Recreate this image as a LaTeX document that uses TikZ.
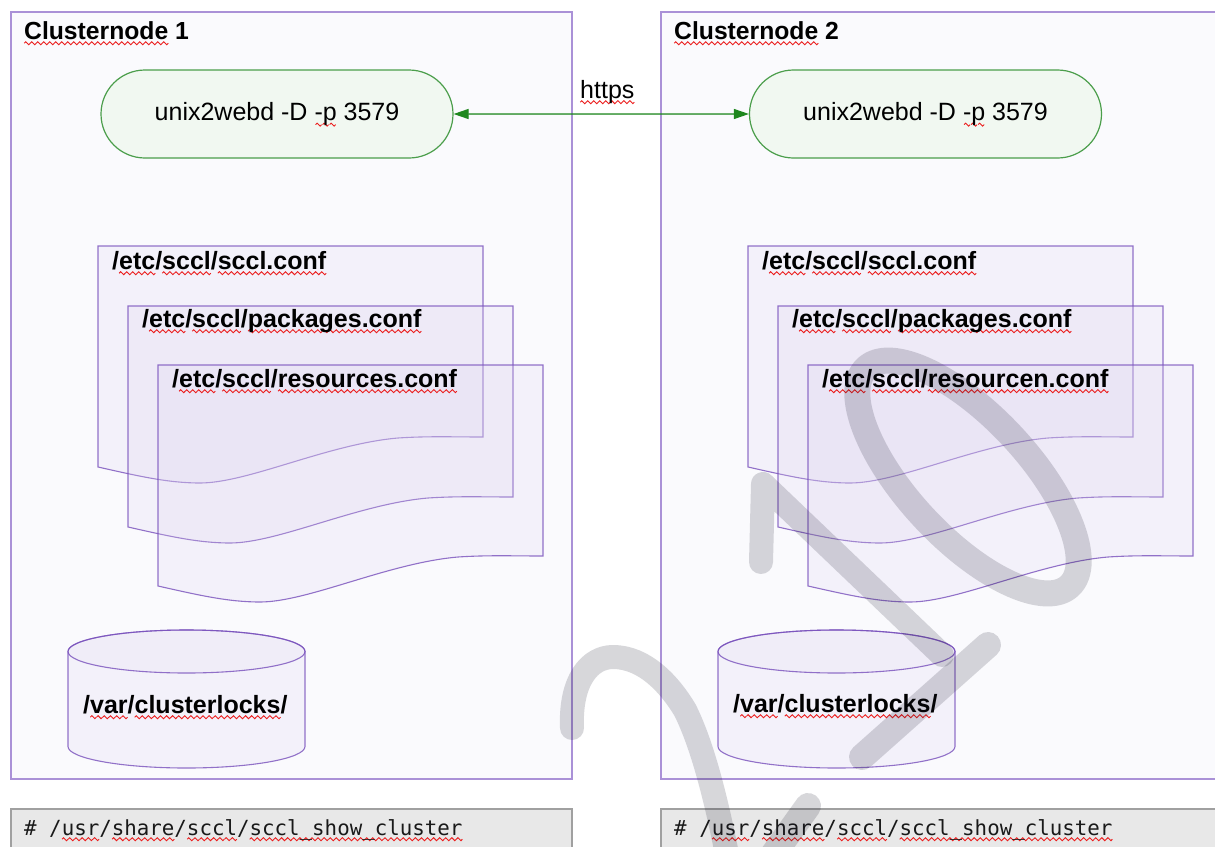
\documentclass[tikz,border=0pt]{standalone}
\usepackage{fontspec}
\setmainfont{Liberation Sans}
\setmonofont{DejaVu Sans Mono}
\usetikzlibrary{shapes.misc,arrows.meta}

\definecolor{boxline}{RGB}{170,145,215}
\definecolor{boxfill}{RGB}{250,250,253}
\definecolor{docline}{RGB}{120,80,188}
\definecolor{docfill}{RGB}{222,212,240}
\definecolor{ovline}{RGB}{75,158,75}
\definecolor{ovfill}{RGB}{241,248,241}
\definecolor{arrowgreen}{RGB}{30,135,30}
\definecolor{codefill}{RGB}{232,232,232}
\definecolor{codeline}{RGB}{160,160,160}
\definecolor{squig}{RGB}{235,30,30}
\definecolor{wmark}{RGB}{20,20,40}

\newsavebox{\sqbox}
\newcommand\sqwave{\tikz[baseline=0pt]{\useasboundingbox (0pt,-1.6pt) rectangle (6pt,1.6pt); \draw[squig,line width=0.9pt] (0pt,0pt) sin (1.5pt,1.5pt) cos (3pt,0pt) sin (4.5pt,-1.5pt) cos (6pt,0pt);}}
\newcommand\sq[1]{\sbox{\sqbox}{#1}\rlap{\raisebox{-4.2pt}[0pt][0pt]{\hbox to \wd\sqbox{\xleaders\hbox{\sqwave}\hfill}}}\usebox{\sqbox}}

\begin{document}
\begin{tikzpicture}[x=1pt,y=-1pt,
  clusterbox/.style={draw=boxline, fill=boxfill, line width=1.6pt, inner sep=0pt, anchor=north west, minimum width=561pt, minimum height=767pt},
  titletext/.style={font=\fontsize{24.7}{30}\selectfont\bfseries, anchor=base west, inner sep=0pt},
  daemon/.style={rounded rectangle, draw=ovline, fill=ovfill, line width=1.2pt, minimum width=352pt, minimum height=88pt, inner sep=0pt, font=\fontsize{25}{30}\selectfont},
  link/.style={draw=arrowgreen, fill=arrowgreen, line width=1.2pt, {Triangle[length=15pt,width=10pt]}-{Triangle[length=15pt,width=10pt]}},
  plaintext/.style={font=\fontsize{25}{30}\selectfont, anchor=base west, inner sep=0pt},
  docshape/.style={draw=docline, draw opacity=0.8, fill=docfill, fill opacity=0.22, line width=1.1pt},
  doclabel/.style={font=\fontsize{25}{30}\selectfont\bfseries, anchor=base west, inner sep=0pt},
  codebox/.style={draw=codeline, fill=codefill, line width=2pt, inner sep=0pt, anchor=north west, minimum width=561pt, minimum height=70pt},
  codetext/.style={font=\fontsize{20.8}{26}\ttfamily, text=black!90, anchor=base west, inner sep=0pt},
  watermark/.style={draw=wmark, draw opacity=0.17, line width=26pt, line cap=round, line join=round}
]
\useasboundingbox (0,0) rectangle (1215,846);
\fill[white] (0,0) rectangle (1215,846);
\clip (0,0) rectangle (1215,846);

% cluster boxes
\node[clusterbox] (c1) at (10,11) {};
\node[clusterbox] (c2) at (660,11) {};
\node[titletext] (t1) at (24,39) {\sq{Clusternode} 1};
\node[titletext] (t2) at (674,39) {\sq{Clusternode} 2};

% daemons and link
\node[daemon] (e1) at (277,114) {unix2webd -D \sq{-p} 3579};
\node[daemon] (e2) at (925.5,114) {unix2webd -D \sq{-p} 3579};
\draw[link] (e1) -- (e2);
\node[plaintext] (https) at (580,98) {\sq{https}};

% documents
\foreach \dx/\dy in {98/246, 128/306, 158/365, 748/246, 778/306, 808/365} {
  \draw[docshape, shift={(\dx,\dy)}] (0,0) -- (385,0) -- (385,191)
    .. controls (355,191) and (330,190) .. (300,192)
    .. controls (230,198) and (150,237) .. (102,237)
    .. controls (70,237) and (40,230) .. (0,221) -- cycle;
}
\node[doclabel] (d1) at (112,269) {/\sq{etc}/\sq{sccl}/\sq{sccl.conf}};
\node[doclabel] (d2) at (142,327) {/\sq{etc}/\sq{sccl}/\sq{packages.conf}};
\node[doclabel] (d3) at (172,387) {/\sq{etc}/\sq{sccl}/\sq{resources.conf}};
\node[doclabel] (d4) at (762,269) {/\sq{etc}/\sq{sccl}/\sq{sccl.conf}};
\node[doclabel] (d5) at (792,327) {/\sq{etc}/\sq{sccl}/\sq{packages.conf}};
\node[doclabel] (d6) at (822,387) {/\sq{etc}/\sq{sccl}/\sq{resourcen.conf}};

% cylinders
\foreach \cx in {186.5, 836.5} {
  \draw[docshape] (\cx-118.5,651.5) -- (\cx-118.5,746.5)
    arc[start angle=180, end angle=360, x radius=118.5pt, y radius=21.5pt]
    -- (\cx+118.5,651.5)
    arc[start angle=0, end angle=180, x radius=118.5pt, y radius=21.5pt] -- cycle;
  \draw[docshape, fill opacity=0.12] (\cx-118.5,651.5)
    arc[start angle=180, end angle=360, x radius=118.5pt, y radius=21.5pt]
    arc[start angle=0, end angle=180, x radius=118.5pt, y radius=21.5pt];
}
\node[doclabel] (v1) at (83,713) {/\sq{var}/\sq{clusterlocks}/};
\node[doclabel] (v2) at (733,712) {/\sq{var}/\sq{clusterlocks}/};

% code boxes
\node[codebox] (k1) at (10,808) {};
\node[codebox] (k2) at (660,808) {};
\node[codetext] (s1) at (24,835) {\# /\sq{usr}/\sq{share}/\sq{sccl}/\sq{sccl\_show\_cluster}};
\node[codetext] (s2) at (674,835) {\# /\sq{usr}/\sq{share}/\sq{sccl}/\sq{sccl\_show\_cluster}};

% watermark
\draw[watermark, line width=24pt] (572,728) .. controls (570,680) and (590,657) .. (613,657)
  .. controls (645,657) and (670,685) .. (685,710)
  .. controls (700,740) and (715,790) .. (730,870);
\draw[watermark, line width=24pt] (761,562) -- (763,484) -- (942,655);
\draw[watermark] (988,645) -- (862,757);
\draw[watermark] (808,806) -- (755,880);
\draw[watermark, rotate around={-47:(968,477)}] (968,477) ellipse [x radius=149pt, y radius=60pt];
\end{tikzpicture}
\end{document}
